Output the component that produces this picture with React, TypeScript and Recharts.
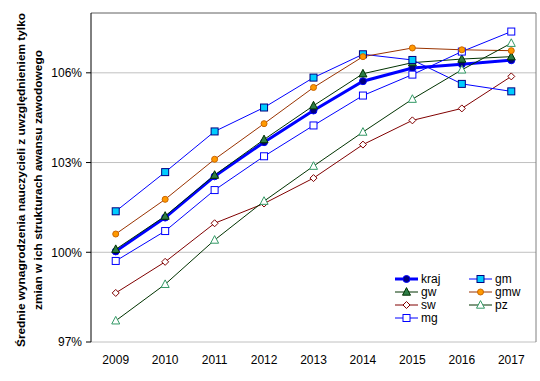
import React from 'react';
import { LineChart, Line, XAxis, YAxis, CartesianGrid, ReferenceLine } from 'recharts';

const years = ['2009', '2010', '2011', '2012', '2013', '2014', '2015', '2016', '2017'];
const kraj = [100.03, 101.16, 102.54, 103.68, 104.74, 105.72, 106.16, 106.29, 106.42];
const gw = [100.1, 101.21, 102.58, 103.77, 104.9, 105.97, 106.34, 106.46, 106.54];
const sw = [98.64, 99.68, 100.97, 101.63, 102.48, 103.6, 104.41, 104.81, 105.88];
const mg = [99.71, 100.71, 102.08, 103.21, 104.24, 105.24, 105.94, 106.71, 107.38];
const gm = [101.37, 102.68, 104.04, 104.84, 105.84, 106.62, 106.43, 105.63, 105.38];
const gmw = [100.61, 101.77, 103.11, 104.3, 105.51, 106.54, 106.83, 106.77, 106.74];
const pz = [97.71, 98.93, 100.41, 101.71, 102.88, 104.02, 105.12, 106.1, 106.99];
const yTicks = [97, 100, 103, 106];
const xLabelTicks = [1, 2, 3, 4, 5, 6, 7, 8, 9];
const xMarkTicks = [0.5, 1.5, 2.5, 3.5, 4.5, 5.5, 6.5, 7.5, 8.5, 9.5];

const data = years.map((y, i) => ({
  x: i + 1,
  kraj: kraj[i],
  gw: gw[i],
  sw: sw[i],
  mg: mg[i],
  gm: gm[i],
  gmw: gmw[i],
  pz: pz[i],
}));

type Kind = 'circle' | 'triangle' | 'diamond' | 'square';
interface SeriesStyle {
  key: string;
  line: string;
  width: number;
  kind: Kind;
  size: number;
  fill: string;
  stroke: string;
}

const series: SeriesStyle[] = [
  { key: 'kraj', line: '#0000FF', width: 3, kind: 'circle', size: 7, fill: '#000080', stroke: '#0000FF' },
  { key: 'gw', line: '#003300', width: 1, kind: 'triangle', size: 8, fill: '#2E7D46', stroke: '#003300' },
  { key: 'sw', line: '#800000', width: 1, kind: 'diamond', size: 7, fill: '#FFFFFF', stroke: '#800000' },
  { key: 'mg', line: '#0000FF', width: 1, kind: 'square', size: 7, fill: '#FFFFFF', stroke: '#0000FF' },
  { key: 'gm', line: '#0000FF', width: 1, kind: 'square', size: 7, fill: '#00CCFF', stroke: '#000080' },
  { key: 'gmw', line: '#993300', width: 1, kind: 'circle', size: 6, fill: '#FF9900', stroke: '#CC6600' },
  { key: 'pz', line: '#003300', width: 1, kind: 'triangle', size: 8, fill: '#FFFFFF', stroke: '#339966' },
];

function Marker({ s, cx, cy }: { s: SeriesStyle; cx: number; cy: number }) {
  const h = s.size / 2;
  if (s.kind === 'circle') {
    return <circle cx={cx} cy={cy} r={h} fill={s.fill} stroke={s.stroke} strokeWidth={1} />;
  }
  if (s.kind === 'square') {
    return <rect x={cx - h} y={cy - h} width={s.size} height={s.size} fill={s.fill} stroke={s.stroke} strokeWidth={1} />;
  }
  if (s.kind === 'diamond') {
    const pts = `${cx},${cy - h} ${cx + h},${cy} ${cx},${cy + h} ${cx - h},${cy}`;
    return <polygon points={pts} fill={s.fill} stroke={s.stroke} strokeWidth={1} />;
  }
  const pts = `${cx},${cy - h * 1.1} ${cx + h},${cy + h * 0.8} ${cx - h},${cy + h * 0.8}`;
  return <polygon points={pts} fill={s.fill} stroke={s.stroke} strokeWidth={1} />;
}

const legendCols: string[][] = [
  ['kraj', 'gw', 'sw', 'mg'],
  ['gm', 'gmw', 'pz'],
];

const font = "Arial, 'Liberation Sans', sans-serif";

function LegendItems({ left, top }: { left: number; top: number }) {
  return (
    <g>
      {legendCols.map((col, ci) =>
        col.map((k, ri) => {
          const s = series.find((q) => q.key === k)!;
          const x0 = left + ci * 74;
          const y = top + ri * 13;
          return (
            <g key={k}>
              <line x1={x0} x2={x0 + 23} y1={y} y2={y} stroke={s.line} strokeWidth={s.width} />
              <Marker s={s} cx={x0 + 11.5} cy={y} />
              <text x={x0 + 26} y={y} dominantBaseline="central" fontSize={12} fill="#000" fontFamily={font}>
                {k}
              </text>
            </g>
          );
        })
      )}
    </g>
  );
}

export default function App() {
  return (
    <div style={{ position: 'absolute', left: 0, top: 0, width: 540, height: 381, background: '#fff' }}>
      <LineChart width={540} height={381} data={data} margin={{ top: 13, right: 4, bottom: 0, left: 0 }}>
        <CartesianGrid vertical={false} stroke="#C0C0C0" strokeWidth={1} xAxisId="marks" />
        <XAxis
          xAxisId="marks"
          type="number"
          dataKey="x"
          domain={[0.5, 9.5]}
          ticks={xMarkTicks}
          tick={false}
          tickSize={5}
          height={0}
          axisLine={{ stroke: '#000' }}
          tickLine={{ stroke: '#000' }}
          interval={0}
        />
        <XAxis
          xAxisId="labels"
          type="number"
          dataKey="x"
          domain={[0.5, 9.5]}
          ticks={xLabelTicks}
          tickFormatter={(v: number) => years[v - 1]}
          axisLine={false}
          tickLine={false}
          tickSize={5}
          tickMargin={8}
          height={39}
          interval={0}
          tick={{ fontSize: 12, fill: '#000', fontFamily: font }}
        />
        <YAxis
          type="number"
          domain={[97, 108]}
          ticks={yTicks}
          width={91}
          tickFormatter={(v: number) => `${v}%`}
          tickSize={5}
          tickMargin={4}
          axisLine={{ stroke: '#000' }}
          tickLine={{ stroke: '#000' }}
          tick={{ fontSize: 12, fill: '#000', fontFamily: font }}
          allowDataOverflow
        />
        <ReferenceLine y={108} xAxisId="marks" stroke="#808080" strokeWidth={1} />
        <ReferenceLine x={9.5} xAxisId="marks" stroke="#808080" strokeWidth={1} />
        {series.map((s) => (
          <Line
            key={s.key}
            xAxisId="marks"
            type="linear"
            dataKey={s.key}
            stroke={s.line}
            strokeWidth={s.width}
            isAnimationActive={false}
            dot={(p: any) => <Marker key={`${s.key}-${p.index}`} s={s} cx={p.cx} cy={p.cy} />}
            activeDot={false}
          />
        ))}
      </LineChart>
      <svg width={540} height={381} style={{ position: 'absolute', left: 0, top: 0, pointerEvents: 'none' }}>
        <LegendItems left={395} top={279} />
        <g fontFamily={font} fontWeight="bold" fontSize={11} fill="#000">
          <text
            x={21}
            y={180}
            textAnchor="middle"
            dominantBaseline="central"
            transform="rotate(-90, 21, 180)"
            textLength={334}
            lengthAdjust="spacingAndGlyphs"
          >
            Średnie wynagrodzenia nauczycieli z uwzględnieniem tylko
          </text>
          <text
            x={37.5}
            y={180}
            textAnchor="middle"
            dominantBaseline="central"
            transform="rotate(-90, 37.5, 180)"
            textLength={260}
            lengthAdjust="spacingAndGlyphs"
          >
            zmian w ich strukturach awansu zawodowego
          </text>
        </g>
      </svg>
    </div>
  );
}
